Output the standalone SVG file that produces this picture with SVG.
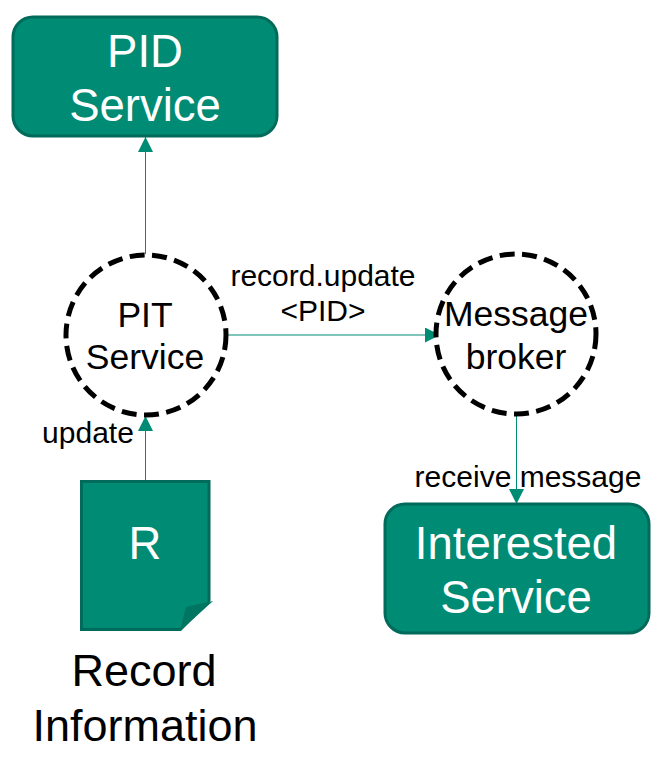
<svg xmlns="http://www.w3.org/2000/svg" width="665" height="757" viewBox="0 0 665 757">
<style>
text{font-family:"Liberation Sans",Arial,sans-serif;text-anchor:middle;fill:#000}
.box{fill:#008b74;stroke:#006b5a;stroke-width:3}
.w{fill:#fff}
.big{font-size:45.500px}
.mid{font-size:35.500px}
.sm{font-size:30px}
.c{fill:#fff;stroke:#000;stroke-width:5;stroke-dasharray:15 7.500}
.l{fill:none;stroke:#008b74;stroke-width:1}
</style>
<defs><marker id="a" markerUnits="userSpaceOnUse" markerWidth="16" markerHeight="15" refX="15" refY="7.500" orient="auto"><path d="M0 0L15 7.500L0 15Z" fill="#008b74"/></marker></defs>
<g id="connectors">
<path class="l" d="M145.500 254V137" marker-end="url(#a)"/>
<path class="l" d="M145.500 480V416" marker-end="url(#a)"/>
<path class="l" d="M226 335H440" marker-end="url(#a)"/>
<path class="l" d="M516.500 414V504" marker-end="url(#a)"/>
</g>
<g id="pid-service"><rect class="box" x="13" y="17" width="264" height="119" rx="20"/><text class="big w" x="145" y="67">PID</text><text class="big w" x="145" y="121">Service</text></g>
<g id="pit-service"><circle class="c" cx="146" cy="335" r="80"/><text class="mid" x="145" y="327">PIT</text><text class="mid" x="145" y="369">Service</text></g>
<g id="message-broker"><circle class="c" cx="516" cy="334" r="80"/><text class="mid" x="516" y="326">Message</text><text class="mid" x="516" y="369">broker</text></g>
<g id="interested-service"><rect class="box" x="385" y="504" width="264" height="129" rx="20"/><text class="big w" x="516" y="559">Interested</text><text class="big w" x="516" y="613">Service</text></g>
<g id="record"><path d="M80 480H210.500V601L181 631H80Z" fill="#006b5a"/><path d="M83 483H207.500V602L180 628H83Z" fill="#008b74"/><path d="M180 631L186 607L213 601Z" fill="#007561"/><text class="big w" x="145" y="559">R</text><text x="144" y="686" style="font-size:45px">Record</text><text x="145" y="741" style="font-size:45px">Information</text></g>
<g id="labels"><text class="sm" x="323" y="286">record.update</text><text class="sm" x="323" y="321">&lt;PID&gt;</text><text class="sm" x="88" y="443">update</text><text class="sm" x="528" y="487">receive message</text></g>
</svg>
